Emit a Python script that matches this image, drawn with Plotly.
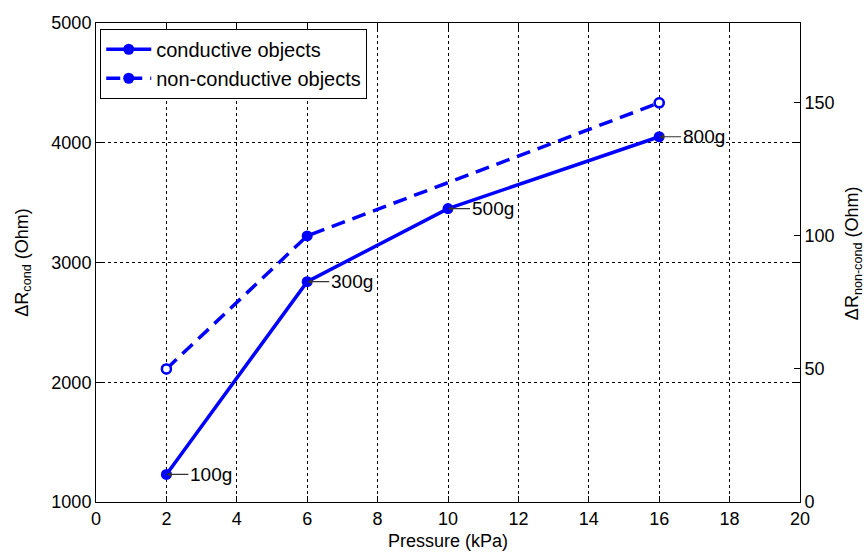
import plotly.graph_objects as go

pressure_cond = [2, 6, 10, 16]
r_cond = [1230, 2840, 3450, 4050]
pressure_noncond = [2, 6, 16]
r_noncond = [50, 100, 150]
open_idx = [0, 2]
weights = ["100g", "300g", "500g", "800g"]

x_ticks = list(range(0, 21, 2))
left_ticks = [1000, 2000, 3000, 4000, 5000]
right_ticks = [0, 50, 100, 150]

BLUE = "#0000ff"
FONT = "Liberation Sans, Arial, sans-serif"

fig = go.Figure()
fig.add_trace(go.Scatter(
    x=pressure_cond, y=r_cond, mode="lines+markers",
    name="conductive objects",
    line=dict(color=BLUE, width=3.5),
    marker=dict(color=BLUE, size=11, symbol="circle"),
    yaxis="y",
))
fig.add_trace(go.Scatter(
    x=pressure_noncond, y=r_noncond, mode="lines+markers",
    name="non-conductive objects",
    line=dict(color=BLUE, width=3.5, dash="14px,8px"),
    marker=dict(color=BLUE, size=11, symbol="circle"),
    yaxis="y2",
))
fig.add_trace(go.Scatter(
    x=[pressure_noncond[i] for i in open_idx],
    y=[r_noncond[i] for i in open_idx],
    mode="markers", showlegend=False,
    marker=dict(color="white", size=9, symbol="circle",
                line=dict(color=BLUE, width=2.5)),
    yaxis="y2",
))

for xv, yv, t in zip(pressure_cond, r_cond, weights):
    fig.add_annotation(
        x=xv, y=yv, xref="x", yref="y", text=t,
        showarrow=True, ax=22, ay=0, xanchor="left",
        arrowhead=2, arrowsize=0.8, arrowwidth=1.2, arrowcolor="#333333",
        font=dict(family=FONT, size=19, color="black"),
    )

# axis titles placed by hand (right one is cut at the page edge like the reference)
fig.add_annotation(
    x=1.077, y=0.52, xref="paper", yref="paper",
    text="ΔR<sub>non-cond</sub> (Ohm)", textangle=-90, showarrow=False,
    xanchor="center", yanchor="middle",
    font=dict(family=FONT, size=18, color="black"),
)
fig.add_annotation(
    x=0.5, y=-0.081, xref="paper", yref="paper",
    text="Pressure (kPa)", showarrow=False,
    xanchor="center", yanchor="middle",
    font=dict(family=FONT, size=18, color="black"),
)

axis_common = dict(
    showline=True, linecolor="black", linewidth=1,
    ticks="inside", ticklen=6, tickcolor="black",
    tickfont=dict(family=FONT, size=18, color="black"),
    zeroline=False,
)

fig.update_layout(
    width=866, height=552,
    margin=dict(l=96, r=66, t=23, b=50),
    paper_bgcolor="white", plot_bgcolor="white",
    font=dict(family=FONT, color="black"),
    xaxis=dict(
        range=[0, 20], tickvals=x_ticks, mirror="ticks",
        showgrid=True, gridcolor="black", gridwidth=1, griddash="dot",
        **axis_common,
    ),
    yaxis=dict(
        range=[1000, 5000], tickvals=left_ticks, mirror="ticks",
        showgrid=True, gridcolor="black", gridwidth=1, griddash="dot",
        title=dict(text="ΔR<sub>cond</sub> (Ohm)", font=dict(family=FONT, size=18), standoff=18),
        **axis_common,
    ),
    yaxis2=dict(
        range=[0, 180], tickvals=right_ticks, overlaying="y", side="right",
        showgrid=False,
        **axis_common,
    ),
    legend=dict(
        x=0.006, y=0.988, xanchor="left", yanchor="top",
        bgcolor="white", bordercolor="black", borderwidth=1,
        font=dict(family=FONT, size=20, color="black"),
        itemwidth=45, tracegroupgap=0,
    ),
    showlegend=True,
)

fig.write_html(
    "out.html",
    config={"displayModeBar": False},
    post_script="document.body.style.margin='0';document.body.style.overflow='hidden';",
)
